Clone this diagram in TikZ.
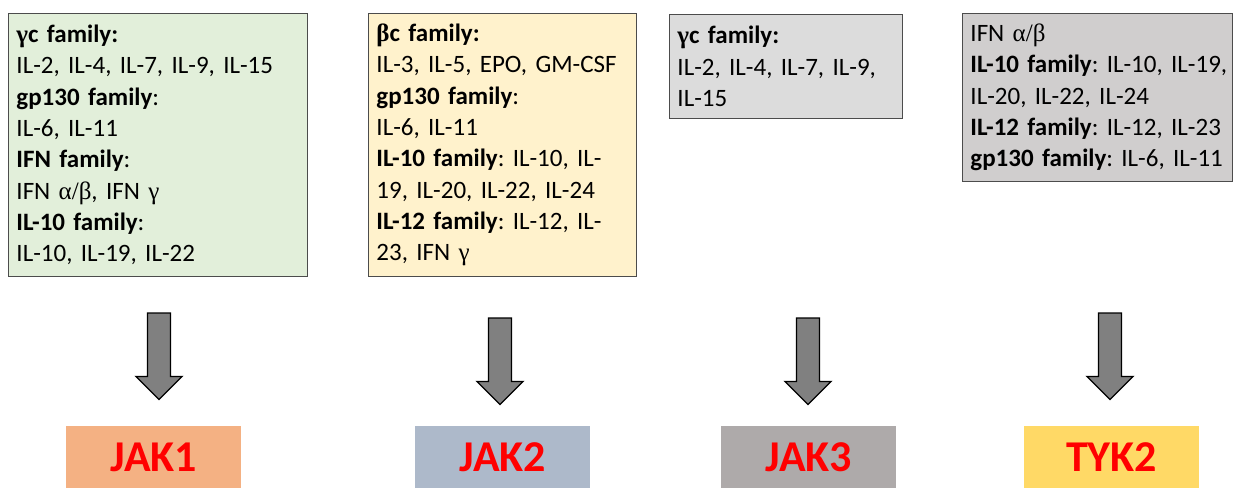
\documentclass[tikz,border=0pt]{standalone}
\usepackage{fontspec}
\setmainfont{Carlito}
\newfontfamily\grk{Liberation Serif}
\usetikzlibrary{calc}
\definecolor{boxgreen}{HTML}{E2EFDA}
\definecolor{boxyellow}{HTML}{FFF2CC}
\definecolor{boxgrey}{HTML}{DCDCDC}
\definecolor{boxdgrey}{HTML}{D0CECE}
\definecolor{jakone}{HTML}{F4B183}
\definecolor{jaktwo}{HTML}{ADB9CA}
\definecolor{jakthree}{HTML}{AEAAAA}
\definecolor{tyktwo}{HTML}{FFD966}
\definecolor{arrowgrey}{HTML}{808080}
\definecolor{jakred}{HTML}{FF0000}
\newcommand\blockarrow[1]{\draw[blockarrow] ($(#1)+(-11.5,0)$) -- ++(23,0) -- ++(0,63.5) -- ++(11.5,0) -- ++(-23,23) -- ++(-23,-23) -- ++(11.5,0) -- cycle;}
\frenchspacing
\begin{document}
\frenchspacing
\begin{tikzpicture}[x=1pt,y=-1pt,
  fambox/.style={draw=black!70, line width=0.9pt, anchor=north west, align=left,
    inner xsep=8pt, inner ysep=0pt, font=\fontsize{25}{31.3}\selectfont\frenchspacing},
  jakbox/.style={anchor=north west, inner sep=0pt, minimum width=175pt, minimum height=62pt,
    text=jakred, font=\fontsize{44}{48}\selectfont\bfseries},
  blockarrow/.style={fill=arrowgrey, draw=black, line width=1.3pt, line join=miter}]
\useasboundingbox (0,0) rectangle (1246,488);

\node[fambox, fill=boxgreen, text width=283pt, minimum height=263pt] (f1) at (8,13) {%
\textbf{{\grk γ}c family:}\\
IL-2, IL-4, IL-7, IL-9, IL-15\\
\textbf{gp130 family}:\\
IL-6, IL-11\\
\textbf{IFN family}:\\
IFN {\grk α/β}, IFN {\grk γ}\\
\textbf{IL-10 family}:\\
IL-10, IL-19, IL-22};

\node[fambox, fill=boxyellow, text width=252pt, minimum height=263pt] (f2) at (368,13) {%
\textbf{{\grk β}c family:}\\
IL-3, IL-5, EPO, GM-CSF\\
\textbf{gp130 family}:\\
IL-6, IL-11\\
\textbf{IL-10 family}: IL-10, IL-\\
19, IL-20, IL-22, IL-24\\
\textbf{IL-12 family}: IL-12, IL-\\
23, IFN {\grk γ}};

\node[fambox, fill=boxgrey, text width=217pt, minimum height=104pt] (f3) at (669,14) {%
\textbf{{\grk γ}c family:}\\
IL-2, IL-4, IL-7, IL-9,\\
IL-15};

\node[fambox, fill=boxdgrey, text width=254pt, minimum height=168pt] (f4) at (962,13) {%
IFN {\grk α/β}\\
\mbox{\textbf{IL-10 family}: IL-10, IL-19,}\\
IL-20, IL-22, IL-24\\
\textbf{IL-12 family}: IL-12, IL-23\\
\textbf{gp130 family}: IL-6, IL-11};

\node[jakbox, fill=jakone] (j1) at (66,426) {JAK1};
\node[jakbox, fill=jaktwo] (j2) at (415,426) {JAK2};
\node[jakbox, fill=jakthree] (j3) at (721,426) {JAK3};
\node[jakbox, fill=tyktwo] (j4) at (1024,426) {TYK2};

\coordinate (a1) at (159,313);
\coordinate (a2) at (500,318);
\coordinate (a3) at (808,318);
\coordinate (a4) at (1110,313);
\blockarrow{a1}
\blockarrow{a2}
\blockarrow{a3}
\blockarrow{a4}
\end{tikzpicture}
\end{document}
